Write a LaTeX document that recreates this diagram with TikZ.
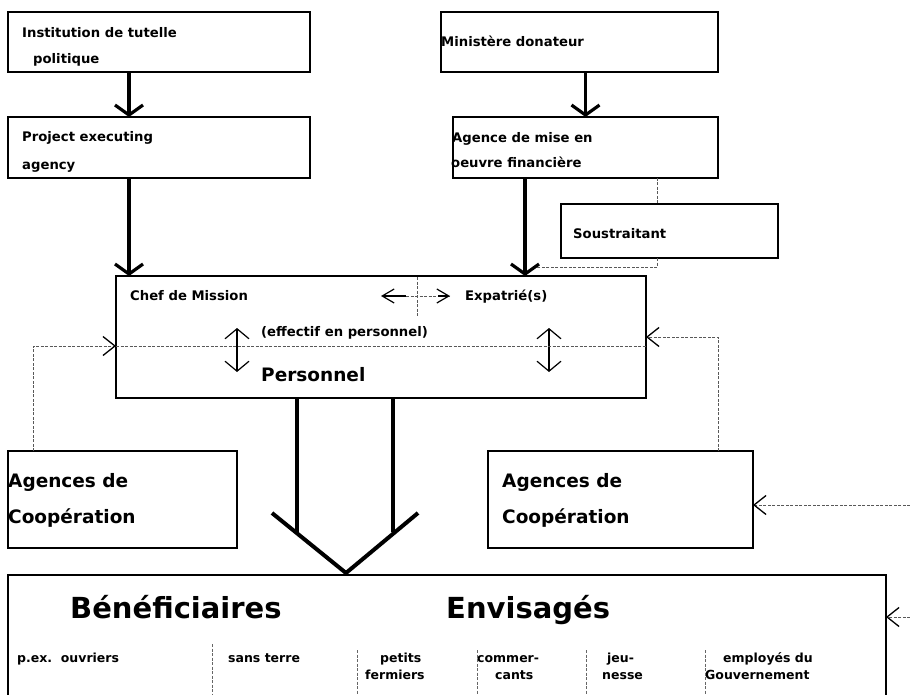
\documentclass[tikz,border=0pt]{standalone}
\usepackage{fontspec}
\setmainfont{DejaVu Sans}
\usetikzlibrary{arrows.meta,calc}

\begin{document}
\begin{tikzpicture}[x=1pt,y=-1pt,
  box/.style={draw, line width=1.6pt, anchor=north west, inner sep=0pt, outer sep=0pt},
  lbl/.style={anchor=base west, inner sep=0pt, font=\bfseries\fontsize{13.2}{15}\selectfont},
  row/.style={anchor=base west, inner sep=0pt, font=\bfseries\fontsize{12.5}{14}\selectfont},
  mid/.style={anchor=base west, inner sep=0pt, font=\bfseries\fontsize{18.5}{21}\selectfont},
  big/.style={anchor=base west, inner sep=0pt, font=\bfseries\fontsize{29}{32}\selectfont},
  conn/.style={line width=3.2pt, -{Straight Barb[length=10pt,width=28pt]}},
  bigline/.style={line width=4pt},
  dbl/.style={line width=1.2pt, {Straight Barb[length=10pt,width=24pt]}-{Straight Barb[length=10pt,width=24pt]}},
  feed/.style={draw=black!65, line width=0.8pt, dash pattern=on 3pt off 1.5pt},
  fbarb/.tip={Straight Barb[length=12pt,width=19pt,line width=1.3pt,color=black]},
  hbarb/.tip={Straight Barb[length=12pt,width=14pt]},
  sep/.style={draw=black!60, line width=0.8pt, dash pattern=on 3pt off 1.5pt}]

\useasboundingbox (0,0) rectangle (910,695);

% boxes
\node[box, minimum width=302pt, minimum height=60pt] (inst) at (8,12) {};
\node[box, minimum width=302pt, minimum height=61pt] (pea) at (8,117) {};
\node[box, minimum width=277pt, minimum height=60pt] (min) at (441,12) {};
\node[box, minimum width=265pt, minimum height=61pt] (agm) at (453,117) {};
\node[box, minimum width=217pt, minimum height=54pt] (sous) at (561,204) {};
\node[box, minimum width=530pt, minimum height=122pt] (main) at (116,276) {};
\node[box, minimum width=229pt, minimum height=97pt] (acl) at (8,451) {};
\node[box, minimum width=265pt, minimum height=97pt] (acr) at (488,451) {};
\node[box, minimum width=878pt, minimum height=135pt] (ben) at (8,575) {};

% box texts
\node[lbl] (t1) at (22,37.7) {Institution de tutelle};
\node[lbl] (t2) at (33,63.7) {politique};
\node[lbl] (t3) at (22,141.7) {Project executing};
\node[lbl] (t4) at (22,169.7) {agency};
\node[lbl] (t5) at (441,46.7) {Ministère donateur};
\node[lbl] (t6) at (452,142.7) {Agence de mise en};
\node[lbl] (t7) at (451,167.7) {oeuvre financière};
\node[lbl] (t8) at (573,238.7) {Soustraitant};
\node[lbl] (t9) at (130,300.7) {Chef de Mission};
\node[lbl] (t10) at (465,300.7) {Expatrié(s)};
\node[lbl] (t11) at (261,336.7) {(effectif en personnel)};
\node[mid] (t12) at (261,381) {Personnel};
\node[mid] (t13) at (8,487) {Agences de};
\node[mid] (t14) at (8,523) {Coopération};
\node[mid] (t15) at (502,487) {Agences de};
\node[mid] (t16) at (502,523) {Coopération};
\node[big] (t17) at (70,618) {Bénéficiaires};
\node[big] (t18) at (446,618) {Envisagés};

% beneficiary groups
\node[row] (g1) at (17,662.5) {p.ex.\ \ ouvriers};
\node[row] (g2) at (228,662.5) {sans terre};
\node[row] (g3a) at (380,662.5) {petits};
\node[row] (g3b) at (365,679.5) {fermiers};
\node[row] (g4a) at (477,662.5) {commer-};
\node[row] (g4b) at (495,679.5) {cants};
\node[row] (g5a) at (607,662.5) {jeu-};
\node[row] (g5b) at (602,679.5) {nesse};
\node[row] (g6a) at (723,662.5) {employés du};
\node[row] (g6b) at (705,679.5) {Gouvernement};

\draw[sep] (212,644) -- (212,700);
\draw[sep] (357,650) -- (357,700);
\draw[sep] (477,650) -- (477,700);
\draw[sep] (586,650) -- (586,700);
\draw[sep] (705,650) -- (705,700);

% hierarchy arrows
\coordinate (a1) at ([xshift=-30pt]inst.south);
\coordinate (a2) at ([xshift=-30pt]pea.south);
\coordinate (a4) at ([xshift=-60.5pt]agm.south);
\draw[conn] (a1) -- (a1 |- pea.north);
\draw[conn] (a2) -- (a2 |- main.north);
\draw[conn] (agm.north |- min.south) -- (agm.north);
\draw[conn] (a4) -- (a4 |- main.north);

% subcontractor link
\coordinate (s1) at ([xshift=-61pt]agm.south east);
\coordinate (s2) at (657,267);
\coordinate (s3) at (537,267);
\draw[feed] (s1) -- (s1 |- sous.north);
\draw[feed] (s1 |- sous.south) -- (s2) -- (s3);

% inside the mission box
\coordinate (lv) at (417,277);
\coordinate (hl) at (381,296);
\coordinate (hm) at (406,296);
\coordinate (hr) at (450,296);
\draw[feed] (lv) -- (417,317);
\draw[line width=1.2pt, -hbarb] (hm) -- (hl);
\draw[feed] (hm) -- (hr);
\draw[line width=1.2pt, -hbarb] ([xshift=-12pt]hr) -- (hr);
\draw[dbl] (237,328) -- (237,372);
\draw[dbl] (549,328) -- (549,372);
\draw[feed] ([yshift=-9pt]main.west) -- ([yshift=-9pt]main.east);

% cooperation agencies feedback
\coordinate (cl) at ([xshift=25pt]acl.north west);
\coordinate (cr) at ([xshift=-35pt]acr.north east);
\draw[feed, -fbarb] (cl) |- ([yshift=-9pt]main.west);
\draw[feed, -fbarb] (cr) |- (main.east);
\coordinate (in1) at (910,505);
\coordinate (in2) at (910,617);
\draw[feed, -fbarb] (in1) -- (in1 -| acr.east);
\draw[feed, -fbarb] (in2) -- (in2 -| ben.east);

% flow to beneficiaries
\coordinate (bl) at (297,532);
\coordinate (br) at (393,532);
\coordinate (vl) at (272,513);
\coordinate (vr) at (418,513);
\coordinate (apex) at (346,573);
\draw[bigline] (bl |- main.south) -- (bl);
\draw[bigline] (br |- main.south) -- (br);
\draw[bigline] (vl) -- (apex) -- (vr);
\end{tikzpicture}
\end{document}
